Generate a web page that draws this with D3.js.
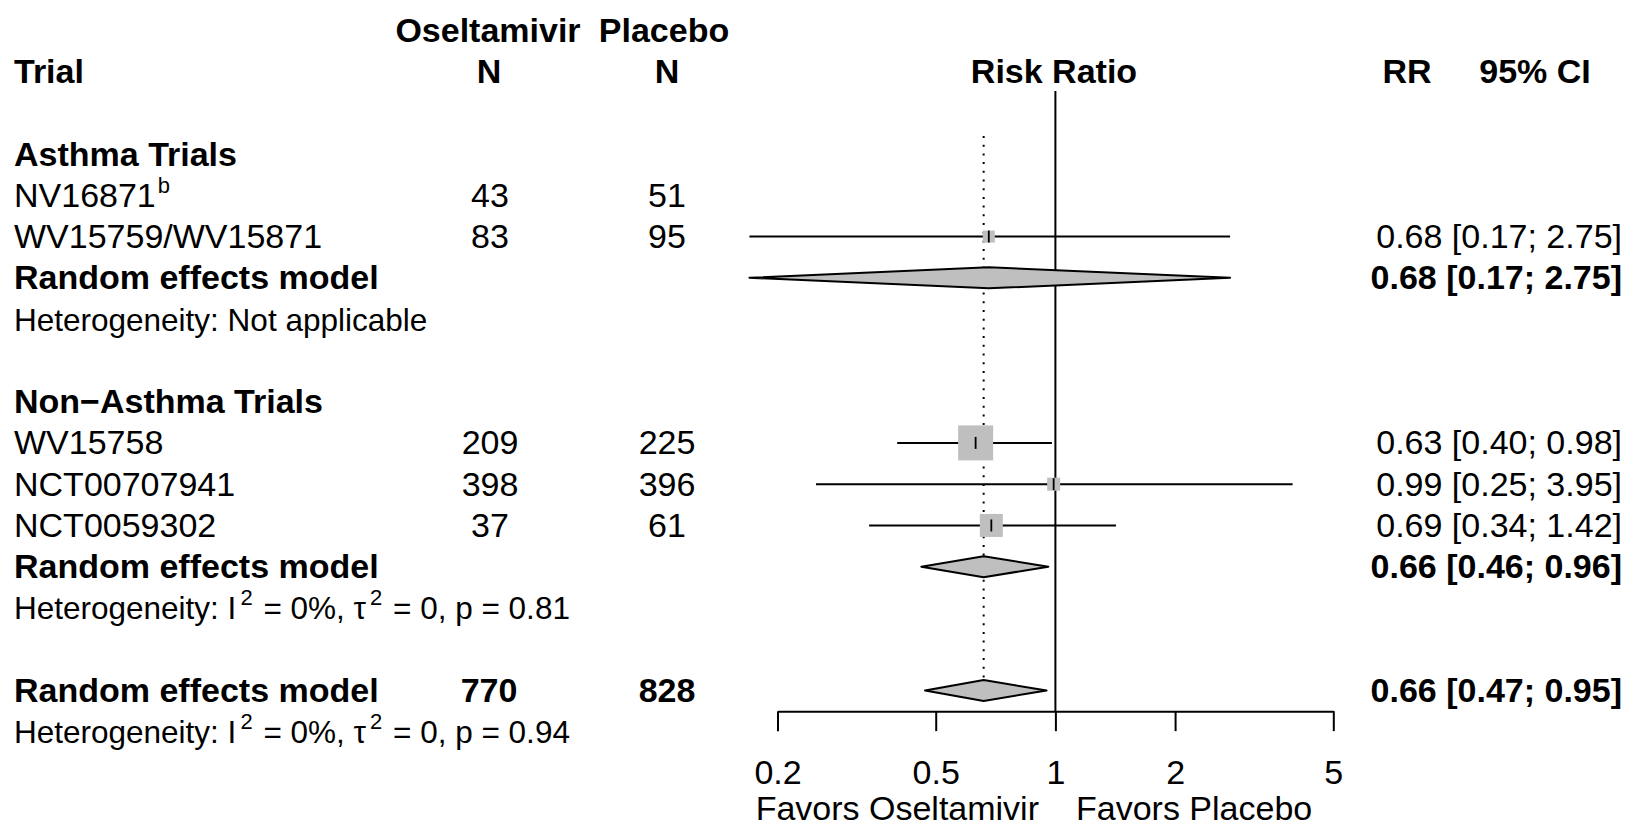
<!DOCTYPE html>
<html>
<head>
<meta charset="utf-8">
<script src="https://cdn.jsdelivr.net/npm/d3@7/dist/d3.min.js"></script>
<style>
  html, body { margin: 0; padding: 0; background: #fff; }
  svg { display: block; }
  text { font-family: "Liberation Sans", Arial, Helvetica, sans-serif; fill: #000; }
</style>
</head>
<body>
<svg id="chart" width="1632" height="827"></svg>
<script>
// ---------------- data ----------------
const groupLabels = ["Asthma Trials", "Non\u2212Asthma Trials"];
const trialLabels = ["NV16871", "WV15759/WV15871", "WV15758", "NCT00707941", "NCT0059302"];
const trialGroup  = [0, 0, 1, 1, 1];
const trialSup    = ["b", "", "", "", ""];
const nOseltamivir = [43, 83, 209, 398, 37];
const nPlacebo     = [51, 95, 225, 396, 61];
const trialRR    = [null, 0.68, 0.63, 0.99, 0.69];
const trialLower = [null, 0.17, 0.40, 0.25, 0.34];
const trialUpper = [null, 2.75, 0.98, 3.95, 1.42];
const trialWeight = [null, 7.0, 59.3, 8.2, 25.6];   // % weight (square area)

const pooledLabel = ["Random effects model", "Random effects model", "Random effects model"];
const pooledRR    = [0.68, 0.66, 0.66];
const pooledLower = [0.17, 0.46, 0.47];
const pooledUpper = [2.75, 0.96, 0.95];
const hetText = [
  [["Heterogeneity: Not applicable", false]],
  [["Heterogeneity: I", false], ["2", true], [" = 0%, \u03c4", false], ["2", true], [" = 0, p = 0.81", false]],
  [["Heterogeneity: I", false], ["2", true], [" = 0%, \u03c4", false], ["2", true], [" = 0, p = 0.94", false]]
];
const totalOseltamivir = 770;
const totalPlacebo = 828;
const tickValues = [0.2, 0.5, 1, 2, 5];
const leftLabel = "Favors Oseltamivir";
const rightLabel = "Favors Placebo";

// ---------------- layout ----------------
const svg = d3.select("#chart");
const FS = 34, FS_HET = 31.5, FS_SUP = 22;
const xTrial = 14, xOsel = 490, xPlac = 667, xRight = 1622;

const y = d3.scaleLinear().domain([0, 14]).range([154, 154 + 14 * 41.27]);
const x = d3.scaleLog().domain([0.2, 5]).range([777.5, 1333.3]);
const base = r => y(r) + 11.5;

// row assignments
const groupRow = [0, 6];
const trialRow = [1, 2, 7, 8, 9];
const pooledRow = [3, 10, 13];
const hetRow = [4, 11, 14];

function txt(xp, yp, s, opts = {}) {
  return svg.append("text")
    .attr("x", xp).attr("y", yp)
    .attr("font-size", opts.size || FS)
    .attr("font-weight", opts.bold ? "bold" : "normal")
    .attr("text-anchor", opts.anchor || "start")
    .text(s);
}

// headers
txt(488, base(-3), "Oseltamivir", {bold: true, anchor: "middle"});
txt(664, base(-3), "Placebo", {bold: true, anchor: "middle"});
txt(xTrial, base(-2), "Trial", {bold: true});
txt(489, base(-2), "N", {bold: true, anchor: "middle"});
txt(667, base(-2), "N", {bold: true, anchor: "middle"});
txt(1054, base(-2), "Risk Ratio", {bold: true, anchor: "middle"});
txt(1407, base(-2), "RR", {bold: true, anchor: "middle"});
txt(1535, base(-2), "95% CI", {bold: true, anchor: "middle"});

// reference lines
const yTopLine = 91, yAxis = y(13.5);
svg.append("line")
  .attr("x1", x(pooledRR[2])).attr("x2", x(pooledRR[2]))
  .attr("y1", 136).attr("y2", 699)
  .attr("stroke", "#000").attr("stroke-width", 2)
  .attr("stroke-dasharray", "2 6.7");
svg.append("line")
  .attr("x1", x(1)).attr("x2", x(1))
  .attr("y1", yTopLine).attr("y2", yAxis)
  .attr("stroke", "#000").attr("stroke-width", 2);

// group labels
groupLabels.forEach((g, i) => txt(xTrial, base(groupRow[i]), g, {bold: true}));

// trials
const fmt2 = d3.format(".2f");
trialLabels.forEach((t, i) => {
  const r = trialRow[i];
  const tx = txt(xTrial, base(r), t);
  if (trialSup[i]) {
    tx.append("tspan").attr("dx", 2).attr("dy", -14).attr("font-size", FS_SUP).text(trialSup[i]);
  }
  txt(xOsel, base(r), nOseltamivir[i], {anchor: "middle"});
  txt(xPlac, base(r), nPlacebo[i], {anchor: "middle"});
  if (trialRR[i] != null) {
    const cy = y(r);
    svg.append("line")
      .attr("x1", x(trialLower[i])).attr("x2", x(trialUpper[i]))
      .attr("y1", cy).attr("y2", cy)
      .attr("stroke", "#000").attr("stroke-width", 2);
    const side = 4.545 * Math.sqrt(trialWeight[i]);
    svg.append("rect")
      .attr("x", x(trialRR[i]) - side / 2).attr("y", cy - side / 2)
      .attr("width", side).attr("height", side)
      .attr("fill", "#bfbfbf");
    svg.append("line")
      .attr("x1", x(trialRR[i])).attr("x2", x(trialRR[i]))
      .attr("y1", cy - 6).attr("y2", cy + 6)
      .attr("stroke", "#000").attr("stroke-width", 1.8);
    txt(xRight, base(r), `${fmt2(trialRR[i])} [${fmt2(trialLower[i])}; ${fmt2(trialUpper[i])}]`, {anchor: "end"});
  }
});

// pooled estimates
const halfH = 10.5;
pooledLabel.forEach((p, i) => {
  const r = pooledRow[i], cy = y(r);
  txt(xTrial, base(r), p, {bold: true});
  const pts = [
    [x(pooledLower[i]), cy], [x(pooledRR[i]), cy - halfH],
    [x(pooledUpper[i]), cy], [x(pooledRR[i]), cy + halfH]
  ];
  svg.append("polygon")
    .attr("points", pts.map(d => d.join(",")).join(" "))
    .attr("fill", "#bfbfbf").attr("stroke", "#000").attr("stroke-width", 2)
    .attr("stroke-linejoin", "round");
  txt(xRight, base(r), `${fmt2(pooledRR[i])} [${fmt2(pooledLower[i])}; ${fmt2(pooledUpper[i])}]`, {bold: true, anchor: "end"});
});
txt(489, base(13), totalOseltamivir, {bold: true, anchor: "middle"});
txt(667, base(13), totalPlacebo, {bold: true, anchor: "middle"});

// heterogeneity lines
hetText.forEach((parts, i) => {
  const t = svg.append("text").attr("x", xTrial).attr("y", base(hetRow[i])).attr("font-size", FS_HET);
  let raised = false;
  parts.forEach(([s, sup]) => {
    const ts = t.append("tspan").text(s);
    if (sup && !raised) { ts.attr("dx", 4).attr("dy", -14).attr("font-size", FS_SUP); raised = true; }
    else if (!sup && raised) { ts.attr("dx", 2).attr("dy", 14); raised = false; }
  });
});

// x axis
const axis = d3.axisBottom(x)
  .tickValues(tickValues)
  .tickFormat(d3.format("~g"))
  .tickSize(20)
  .tickSizeOuter(0)
  .tickPadding(29);
const gAxis = svg.append("g").attr("transform", `translate(0,${yAxis})`).call(axis);
gAxis.selectAll("path, line").attr("stroke", "#000").attr("stroke-width", 2);
gAxis.selectAll("text").attr("font-size", FS)
  .attr("font-family", '"Liberation Sans", Arial, sans-serif').attr("fill", "#000");

txt(1039, 820, leftLabel, {anchor: "end"});
txt(1076, 820, rightLabel, {anchor: "start"});
</script>
</body>
</html>
